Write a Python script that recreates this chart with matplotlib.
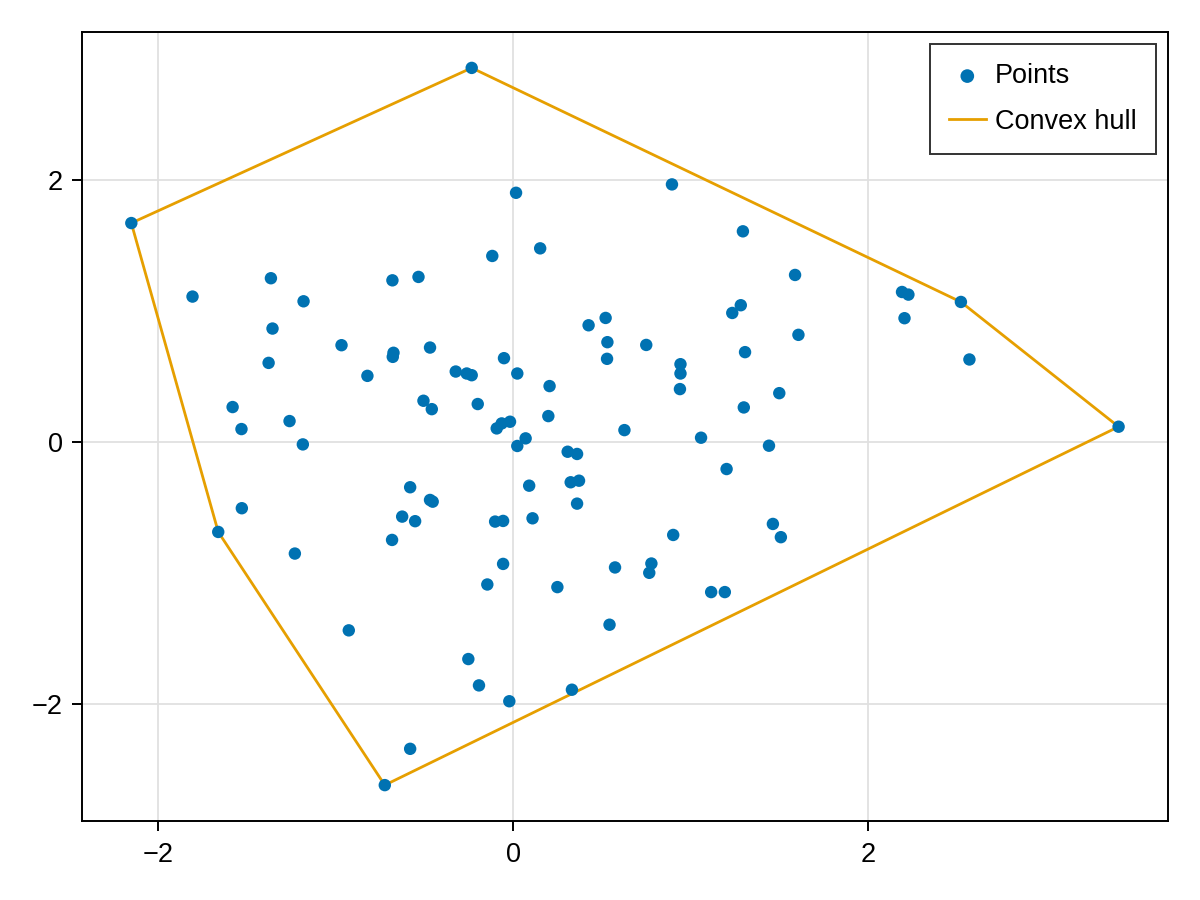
import matplotlib
matplotlib.use("Agg")
import matplotlib.pyplot as plt

# point cloud
xs = [-0.233, -2.152, 0.017, 0.896, -0.117, 0.153, 1.296, -1.365, -1.807, -0.680,
      -0.533, -1.181, 1.590, 2.193, 2.229, 2.525, 2.207, 2.573, 3.414, 1.284,
      1.236, 1.609, 1.308, 1.501, 1.301, 0.426, 0.522, 0.532, 0.530, 0.751,
      0.944, 0.944, 0.941, -1.356, -0.967, -0.468, -0.674, -0.678, -1.378, -0.821,
      -0.323, -0.261, -0.233, -0.051, 0.024, 0.206, 0.199, -0.505, -0.458, -0.199,
      -1.581, -1.531, -1.260, -1.185, -0.092, -0.064, -0.017, 0.071, 0.024, 0.628,
      1.060, 1.443, 0.308, 0.361, 1.204, 0.091, 0.325, 0.372, 0.361, 0.110,
      -0.056, -0.101, 1.465, 1.510, 0.903, -0.056, 0.575, 0.780, 0.768, 0.250,
      1.117, 1.194, 0.544, 0.332, -0.021, -0.580, -0.468, -0.453, -0.625, -0.552,
      -0.682, -1.529, -1.662, -1.230, -0.145, -0.926, -0.252, -0.192, -0.580, -0.723]
ys = [2.855, 1.671, 1.902, 1.966, 1.420, 1.478, 1.608, 1.250, 1.110, 1.234,
      1.260, 1.074, 1.275, 1.145, 1.125, 1.069, 0.945, 0.630, 0.117, 1.044,
      0.985, 0.818, 0.686, 0.373, 0.264, 0.891, 0.947, 0.762, 0.635, 0.741,
      0.594, 0.523, 0.404, 0.866, 0.739, 0.721, 0.681, 0.650, 0.604, 0.505,
      0.538, 0.523, 0.510, 0.640, 0.523, 0.427, 0.198, 0.315, 0.251, 0.290,
      0.267, 0.099, 0.160, -0.018, 0.104, 0.142, 0.155, 0.028, -0.030, 0.091,
      0.033, -0.028, -0.074, -0.091, -0.206, -0.333, -0.307, -0.295, -0.470, -0.582,
      -0.602, -0.607, -0.625, -0.726, -0.709, -0.930, -0.957, -0.927, -0.998, -1.107,
      -1.145, -1.145, -1.394, -1.890, -1.978, -0.345, -0.442, -0.455, -0.569, -0.604,
      -0.747, -0.505, -0.686, -0.851, -1.087, -1.437, -1.656, -1.857, -2.341, -2.618]

# hull vertices (closed)
hull_x = [-0.233, -2.152, -1.662, -0.723, 3.414, 2.525, -0.233]
hull_y = [2.855, 1.671, -0.686, -2.618, 0.117, 1.069, 2.855]

ticks = [-2, 0, 2]

plt.rcParams['font.family'] = ['Liberation Sans', 'DejaVu Sans']

fig = plt.figure(figsize=(12, 9), dpi=100)
ax = fig.add_axes([0.0683, 0.0878, 0.905, 0.8766])

ax.scatter(xs, ys, s=80, color='#0072B2', edgecolors='none', label='Points', zorder=3)
ax.plot(hull_x, hull_y, color='#E69F00', lw=2.0, label='Convex hull', zorder=2)

ax.margins(0.05)
ax.set_xticks(ticks)
ax.set_yticks(ticks)
ax.grid(True, color='#e0e0e0', lw=1.3, zorder=0)
ax.set_axisbelow(True)
ax.tick_params(labelsize=19.5, length=7, width=1.4, direction='out')
ax.tick_params(axis='x', pad=8)
ax.tick_params(axis='y', pad=7)
for sp in ax.spines.values():
    sp.set_linewidth(1.4)

leg = ax.legend(loc='upper right', fontsize=19.5, frameon=True, fancybox=False,
                edgecolor='black', borderpad=0.7, handlelength=1.35,
                handletextpad=0.35, labelspacing=0.72, borderaxespad=0.45,
                markerscale=1.1)
leg.get_frame().set_linewidth(1.4)

fig.savefig('out.png', dpi=100)
